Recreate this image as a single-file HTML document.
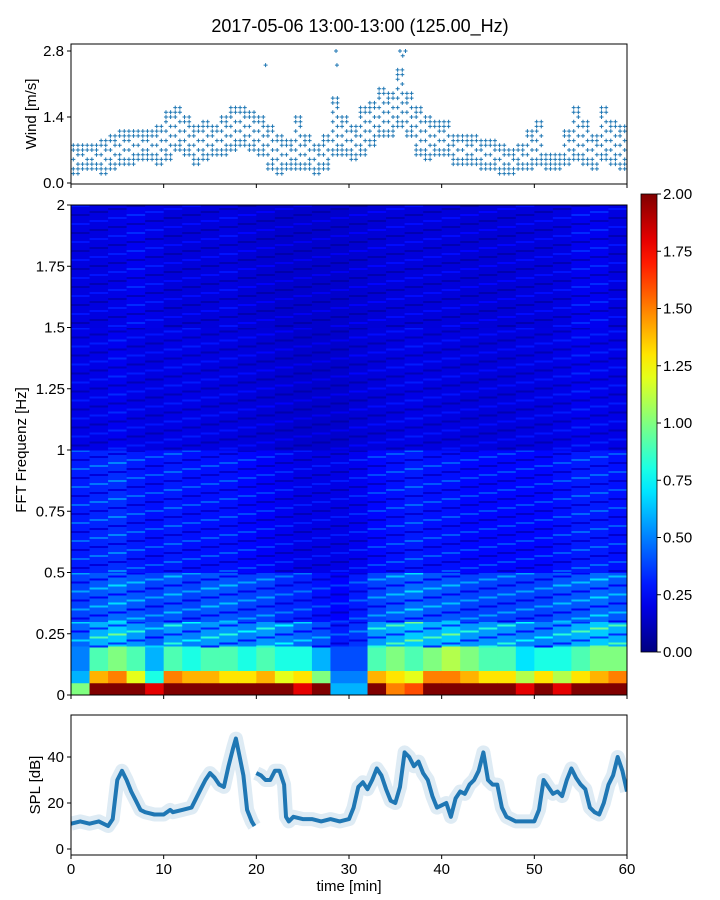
<!DOCTYPE html>
<html><head><meta charset="utf-8"><style>
html,body{margin:0;padding:0;background:#fff;}
svg{display:block;font-family:"Liberation Sans","DejaVu Sans",sans-serif;}
</style></head><body>
<svg id="chart" width="720" height="900" viewBox="0 0 720 900" xmlns="http://www.w3.org/2000/svg">
<text x="360" y="32" text-anchor="middle" font-size="18" fill="#000">2017-05-06 13:00-13:00 (125.00_Hz)</text>
<g id="topg"></g><g id="mid"></g><g id="cbar"></g><g id="bot"></g>
</svg>
<script>
// ---- data ----
const windMinutes = [0,1,2,3,4,5,6,7,8,9,10,11,12,13,14,15,16,17,18,19,20,21,22,23,24,25,26,27,28,29,30,31,32,33,34,35,36,37,38,39,40,41,42,43,44,45,46,47,48,49,50,51,52,53,54,55,56,57,58,59];
const windLo = [.2,.3,.3,.2,.3,.4,.4,.5,.5,.4,.5,.7,.6,.4,.5,.6,.6,.7,.8,.7,.6,.3,.2,.3,.3,.3,.2,.3,.6,.6,.5,.6,.8,1.0,1.0,1.2,1.0,.6,.5,.6,.6,.4,.4,.4,.3,.3,.2,.2,.3,.3,.4,.3,.3,.4,.5,.4,.3,.5,.4,.3];
const windHi = [.8,.8,.8,.9,1.0,1.1,1.1,1.1,1.1,1.2,1.5,1.6,1.4,1.2,1.3,1.2,1.4,1.6,1.6,1.5,1.4,1.2,1.0,.9,1.4,1.0,.8,1.0,1.8,1.4,1.2,1.6,1.7,2.0,1.9,2.4,1.9,1.6,1.4,1.3,1.3,1.0,1.0,1.0,.9,.9,.8,.7,.8,1.1,1.3,.6,.6,1.1,1.6,1.3,1.0,1.6,1.3,1.2];
const gustTimes = [21.0,28.6,28.7,35.5,35.8,36.1];
const gustValues = [2.5,2.8,2.5,2.8,2.7,2.8];
const windTicks = [0.0,1.4,2.8];

const specTimes = [0,2,4,6,8,10,12,14,16,18,20,22,24,26,28,30,32,34,36,38,40,42,44,46,48,50,52,54,56,58];
const bandEdges = [0,0.05,0.1,0.2,0.3,0.5,1.0,1.5,2.0];
const band0 = [1.0,2,2,2,1.8,2,2,2,2,2,2,2,1.8,2,0.6,0.6,2,1.5,1.6,2,2,2,2,2,1.8,2,1.8,2,2,2];
const band1 = [0.6,1.4,1.5,1.2,0.8,1.5,1.4,1.4,1.3,1.3,1.4,1.2,1.3,1.0,0.5,0.5,1.4,1.3,1.2,1.5,1.5,1.4,1.3,1.3,1.1,1.3,1.1,1.3,1.4,1.5];
const band2 = [0.5,0.9,1.0,0.9,0.6,0.9,0.8,0.9,0.9,0.8,0.9,0.8,0.8,0.6,0.4,0.4,0.9,1.0,0.9,1.0,1.1,1.0,0.9,0.9,0.7,0.8,0.8,0.9,1.0,1.0];
const band3 = [0.45,0.6,0.65,0.55,0.45,0.55,0.5,0.55,0.55,0.5,0.55,0.5,0.45,0.4,0.3,0.35,0.55,0.6,0.65,0.6,0.65,0.55,0.55,0.55,0.5,0.5,0.55,0.6,0.65,0.6];
const band4 = [0.38,0.42,0.46,0.42,0.38,0.42,0.38,0.42,0.42,0.38,0.38,0.33,0.32,0.28,0.25,0.3,0.38,0.42,0.46,0.42,0.42,0.38,0.38,0.38,0.38,0.38,0.42,0.42,0.46,0.42];
const band5 = [0.3,0.32,0.34,0.3,0.28,0.3,0.28,0.28,0.28,0.26,0.24,0.22,0.2,0.2,0.2,0.22,0.26,0.28,0.3,0.28,0.28,0.26,0.26,0.26,0.26,0.26,0.28,0.3,0.3,0.28];
const band6 = [0.2,0.2,0.22,0.2,0.19,0.2,0.2,0.19,0.19,0.18,0.17,0.16,0.15,0.15,0.15,0.17,0.18,0.19,0.2,0.19,0.19,0.18,0.18,0.18,0.19,0.19,0.2,0.22,0.21,0.2];
const band7 = [0.19,0.19,0.2,0.22,0.2,0.18,0.18,0.18,0.19,0.17,0.16,0.15,0.15,0.15,0.15,0.16,0.17,0.18,0.18,0.18,0.18,0.17,0.17,0.17,0.18,0.18,0.19,0.22,0.22,0.19];
const freqTicks = [0,0.25,0.5,0.75,1,1.25,1.5,1.75,2];
const freqTickLabels = ["0","0.25","0.5","0.75","1","1.25","1.5","1.75","2"];
const cbarTicks = [0,0.25,0.5,0.75,1,1.25,1.5,1.75,2];

const splTimes = [0,1,2,3,4,4.5,5,5.5,6,6.5,7,7.5,8,9,10,10.7,11,12,13,14,14.5,15,15.5,16,16.5,17,17.5,17.8,18.2,18.6,19,19.5,19.8];
const splValues = [11,12,11,12,10,13,30,34,30,25,21,17,16,15,15,17,16,17,18,26,30,33,31,28,27,36,44,48,40,32,17,12,10];
const splTimes2 = [20,20.5,21,21.5,22,22.5,23,23.2,23.5,24,25,26,27,28,29,30,30.5,31,31.5,32,32.5,33,33.5,34,34.5,35,35.5,36,36.5,37,37.5,38,38.5,39,39.5,40,40.5,41,41.5,42,42.5,43,43.5,44,44.5,45,45.5,46,46.5,47,48,49,50,50.5,51,51.5,52,52.5,53,53.5,54,54.5,55,55.5,56,56.5,57,57.5,58,58.5,59,59.5,60];
const splValues2 = [33,32,30,30,34,34,28,14,12,14,13,13,12,13,12,13,18,27,29,26,30,35,32,26,21,20,27,42,40,36,38,33,30,23,18,19,20,14,22,25,24,28,30,34,42,30,28,28,18,14,12,12,12,17,30,27,24,25,23,30,35,31,28,26,18,16,15,20,28,32,40,34,25];
const splTicks = [0,20,40];
const timeTicks = [0,10,20,30,40,50,60];

// ---- helpers ----
const NS="http://www.w3.org/2000/svg";
function mk(parent,tag,attrs){const e=document.createElementNS(NS,tag);for(const k in attrs)e.setAttribute(k,attrs[k]);parent.appendChild(e);return e;}
function jet(t){t=Math.max(0,Math.min(1,t));const c=v=>Math.round(255*Math.max(0,Math.min(1,v)));
 return `rgb(${c(1.5-Math.abs(4*t-3))},${c(1.5-Math.abs(4*t-2))},${c(1.5-Math.abs(4*t-1))})`;}
const X0=71,X1=627;
const xs=t=>X0+(t/60)*(X1-X0);

// ---- top wind panel ----
const topG=document.getElementById('topg');
const wy=v=>183-v*47.14;
for(let i=0;i<windMinutes.length;i++){
 for(let s=0;s<2;s++){
  const t=windMinutes[i]+s/2+0.25;
  for(let v=windLo[i];v<=windHi[i]+1e-6;v+=0.1){
   const k=Math.round(v*10)+s+i;
   if((k%2)===0 && v>windLo[i]+0.15 && v<windHi[i]-0.15) continue;
   const x=xs(t),y=wy(v);
   const p=mk(topG,'path',{d:`M${x-2},${y}h4M${x},${y-2}v4`,stroke:'#1f77b4','stroke-width':1});
   
   
  }
 }
}
for(let i=0;i<gustTimes.length;i++){
 const x=xs(gustTimes[i]),y=wy(gustValues[i]);
 const p=mk(topG,'path',{d:`M${x-2},${y}h4M${x},${y-2}v4`,stroke:'#1f77b4','stroke-width':1});
 
 
}
let r=mk(topG,'rect',{x:X0,y:44,width:X1-X0,height:140,fill:'none',stroke:'#000','stroke-width':1});

windTicks.forEach(v=>{const y=wy(v);mk(topG,'line',{x1:X0-4,x2:X0,y1:y,y2:y,stroke:'#000'});
 const t=mk(topG,'text',{x:X0-7,y:y+5,'text-anchor':'end','font-size':15});t.textContent=v.toFixed(1);
 });
timeTicks.forEach(v=>mk(topG,'line',{x1:xs(v),x2:xs(v),y1:184,y2:188,stroke:'#000'}));
let wl=mk(topG,'text',{x:0,y:0,'text-anchor':'middle','font-size':15,transform:'translate(36,114) rotate(-90)'});wl.textContent='Wind [m/s]';


// ---- spectrogram ----
const mid=document.getElementById('mid');
const fy=f=>695-f*245;
const bands=[band0,band1,band2,band3,band4,band5,band6,band7];
for(let c=0;c<specTimes.length;c++){
 const xa=xs(specTimes[c]),xb=xs(specTimes[c]+2);
 for(let b=0;b<bands.length;b++){
  const ya=fy(bandEdges[b+1]),yb=fy(bandEdges[b]);
  const cell=mk(mid,'rect',{x:xa,y:ya,width:xb-xa+0.5,height:yb-ya+0.5,fill:jet(bands[b][c]/2)});
  
  
  // horizontal streak texture (styling overlay, alternating shade)
  if(b>=3){
   for(let yy=ya, j=0; yy<yb; yy+=3, j++){
    if((j+c)%3!==0) continue;
    const sh=mk(mid,'rect',{x:xa,y:yy,width:xb-xa+0.5,height:2,fill:jet(Math.min(1,bands[b][c]/2*((j+c)%2?0.55:1.5)))});
    
    
   }
  }
 }
}
r=mk(mid,'rect',{x:X0,y:205,width:X1-X0,height:490,fill:'none',stroke:'#000'});

freqTicks.forEach((f,i)=>{const y=fy(f);mk(mid,'line',{x1:X0-4,x2:X0,y1:y,y2:y,stroke:'#000'});
 const t=mk(mid,'text',{x:X0-6,y:y+5,'text-anchor':'end','font-size':15});t.textContent=freqTickLabels[i];
 });
timeTicks.forEach(v=>mk(mid,'line',{x1:xs(v),x2:xs(v),y1:695,y2:699,stroke:'#000'}));
let fl=mk(mid,'text',{x:0,y:0,'text-anchor':'middle','font-size':15,transform:'translate(26,450) rotate(-90)'});fl.textContent='FFT Frequenz [Hz]';


// ---- colorbar ----
const cb=document.getElementById('cbar');
const defs=mk(cb,'defs',{});const lg=mk(defs,'linearGradient',{id:'jetg',x1:0,y1:1,x2:0,y2:0});
for(let i=0;i<=20;i++)mk(lg,'stop',{offset:i/20,'stop-color':jet(i/20)});
const cy=v=>652-v/2*458;
r=mk(cb,'rect',{x:641,y:194,width:16,height:458,fill:'url(#jetg)',stroke:'#000','stroke-width':0.8});

cbarTicks.forEach(v=>{const y=cy(v);mk(cb,'line',{x1:657,x2:661,y1:y,y2:y,stroke:'#000'});
 const t=mk(cb,'text',{x:663,y:y+5,'font-size':15});t.textContent=v.toFixed(2);
 });

// ---- SPL ----
const bot=document.getElementById('bot');
const sy=v=>849-v*2.3;
function line(ts,vs,name){
 const d=ts.map((t,i)=>(i?'L':'M')+xs(t).toFixed(1)+','+sy(vs[i]).toFixed(1)).join('');
 const halo=mk(bot,'path',{d:d,fill:'none',stroke:'#1f77b4','stroke-opacity':0.15,'stroke-width':14,'stroke-linejoin':'round'});
 
 const p=mk(bot,'path',{d:d,fill:'none',stroke:'#1f77b4','stroke-width':4,'stroke-linejoin':'round'});
 
}
line(splTimes,splValues,'spl-line-a');
line(splTimes2,splValues2,'spl-line-b');
mk(bot,'rect',{x:0,y:700,width:X0,height:160,fill:'#fff'});
mk(bot,'rect',{x:X1,y:700,width:40,height:160,fill:'#fff'});
mk(bot,'rect',{x:X0,y:700,width:X1-X0,height:15,fill:'#fff'});
mk(bot,'rect',{x:X0,y:855,width:X1-X0,height:10,fill:'#fff'});
r=mk(bot,'rect',{x:X0,y:715,width:X1-X0,height:140,fill:'none',stroke:'#000'});

splTicks.forEach(v=>{const y=sy(v);mk(bot,'line',{x1:X0-4,x2:X0,y1:y,y2:y,stroke:'#000'});
 const t=mk(bot,'text',{x:X0-7,y:y+5,'text-anchor':'end','font-size':15});t.textContent=v;
 });
timeTicks.forEach(v=>{mk(bot,'line',{x1:xs(v),x2:xs(v),y1:855,y2:859,stroke:'#000'});
 const t=mk(bot,'text',{x:xs(v),y:874,'text-anchor':'middle','font-size':15});t.textContent=v;
 });
let sl=mk(bot,'text',{x:0,y:0,'text-anchor':'middle','font-size':15,transform:'translate(40,785) rotate(-90)'});sl.textContent='SPL [dB]';

let xl=mk(bot,'text',{x:349,y:891,'text-anchor':'middle','font-size':15});xl.textContent='time [min]';

</script>
</body></html>
